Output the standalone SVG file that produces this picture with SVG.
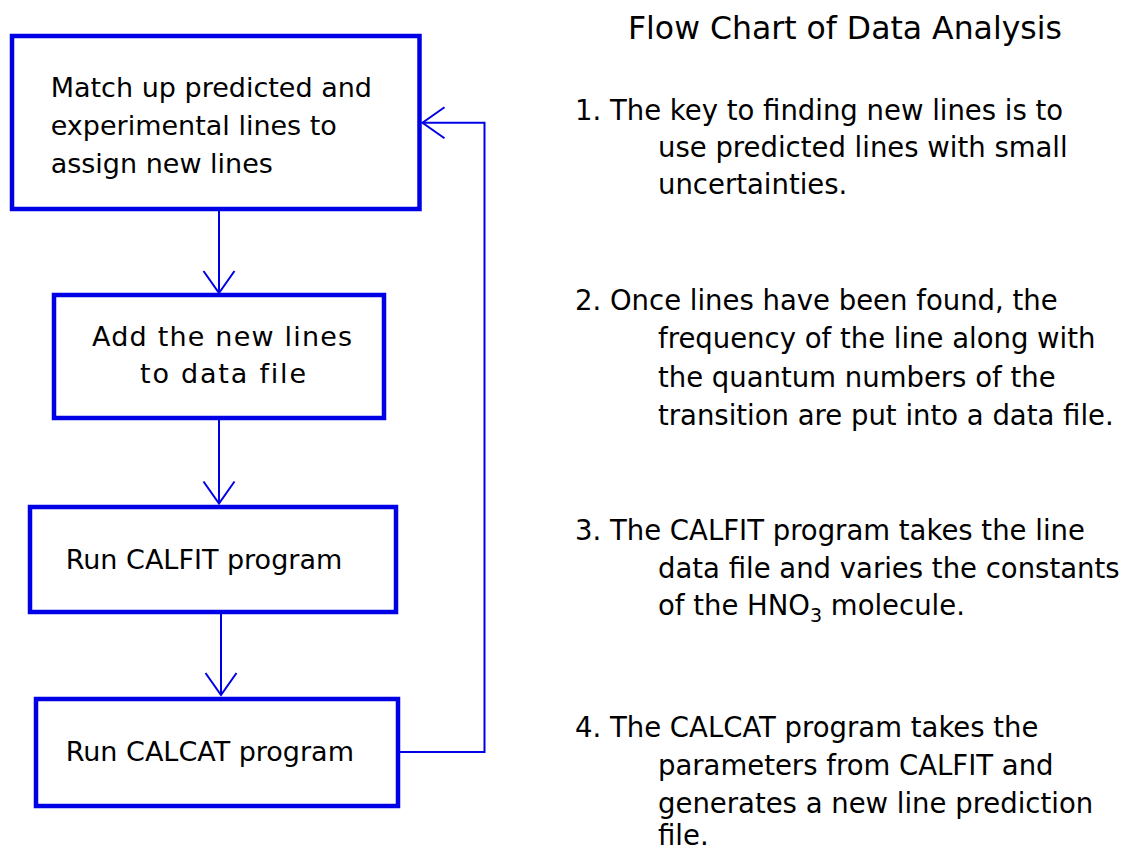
<svg xmlns="http://www.w3.org/2000/svg" width="1122" height="852" viewBox="0 0 1122 852">
<style>
.box{fill:#ffffff;stroke:#0000e6;stroke-width:4.5}
.t{font-family:"DejaVu Sans",Verdana,sans-serif;font-size:27px;fill:#000000}
.r{font-family:"DejaVu Sans",Verdana,sans-serif;font-size:27.5px;fill:#000000}
.title{font-family:"DejaVu Sans",Verdana,sans-serif;font-size:31.5px;fill:#000000}
.c{fill:none;stroke:#0000e6;stroke-width:2}
</style>
<defs>
<marker id="arr" markerUnits="userSpaceOnUse" markerWidth="30" markerHeight="36" viewBox="-24 -18 26 36" refX="0" refY="0" orient="auto" overflow="visible">
<path d="M-22,-15.5 L0,0 L-22,15.5" fill="none" stroke="#0000e6" stroke-width="2"/>
</marker>
</defs>
<rect width="1122" height="852" fill="#ffffff"/>
<g id="connectors">
<path class="c" d="M219,211 L219,293" marker-end="url(#arr)"/>
<path class="c" d="M219,420 L219,503.5" marker-end="url(#arr)"/>
<path class="c" d="M221,614 L221,695" marker-end="url(#arr)"/>
<path class="c" d="M400,752 L484.5,752 L484.5,122.7 L422.5,122.7" marker-end="url(#arr)"/>
</g>
<g id="node1">
<rect class="box" x="12" y="36" width="407.5" height="173"/>
<text class="t" x="50.7" y="97.3">Match up predicted and</text>
<text class="t" x="50.7" y="135.3">experimental lines to</text>
<text class="t" x="50.7" y="173.3">assign new lines</text>
</g>
<g id="node2">
<rect class="box" x="54" y="295" width="330" height="123"/>
<text class="t" x="92" y="345.7" letter-spacing="1.2">Add the new lines</text>
<text class="t" x="140" y="382.7" letter-spacing="1.8">to data file</text>
</g>
<g id="node3">
<rect class="box" x="30" y="507" width="366" height="105"/>
<text class="t" x="65.7" y="569.3">Run CALFIT program</text>
</g>
<g id="node4">
<rect class="box" x="36" y="699" width="362" height="107"/>
<text class="t" x="65.7" y="761">Run CALCAT program</text>
</g>
<g id="notes">
<text class="title" x="628" y="38.5">Flow Chart of Data Analysis</text>
<text class="r" x="575" y="120">1. The key to finding new lines is to</text>
<text class="r" x="658" y="157">use predicted lines with small</text>
<text class="r" x="658" y="194">uncertainties.</text>
<text class="r" x="575" y="310">2. Once lines have been found, the</text>
<text class="r" x="658" y="348">frequency of the line along with</text>
<text class="r" x="658" y="386.5">the quantum numbers of the</text>
<text class="r" x="658" y="425">transition are put into a data file.</text>
<text class="r" x="575" y="540">3. The CALFIT program takes the line</text>
<text class="r" x="658" y="577.5">data file and varies the constants</text>
<text class="r" x="658" y="614.5">of the HNO<tspan font-size="19" dy="7">3</tspan><tspan dy="-7"> molecule.</tspan></text>
<text class="r" x="575" y="737">4. The CALCAT program takes the</text>
<text class="r" x="658" y="775">parameters from CALFIT and</text>
<text class="r" x="658" y="813">generates a new line prediction</text>
<text class="r" x="658" y="845">file.</text>
</g>
</svg>
